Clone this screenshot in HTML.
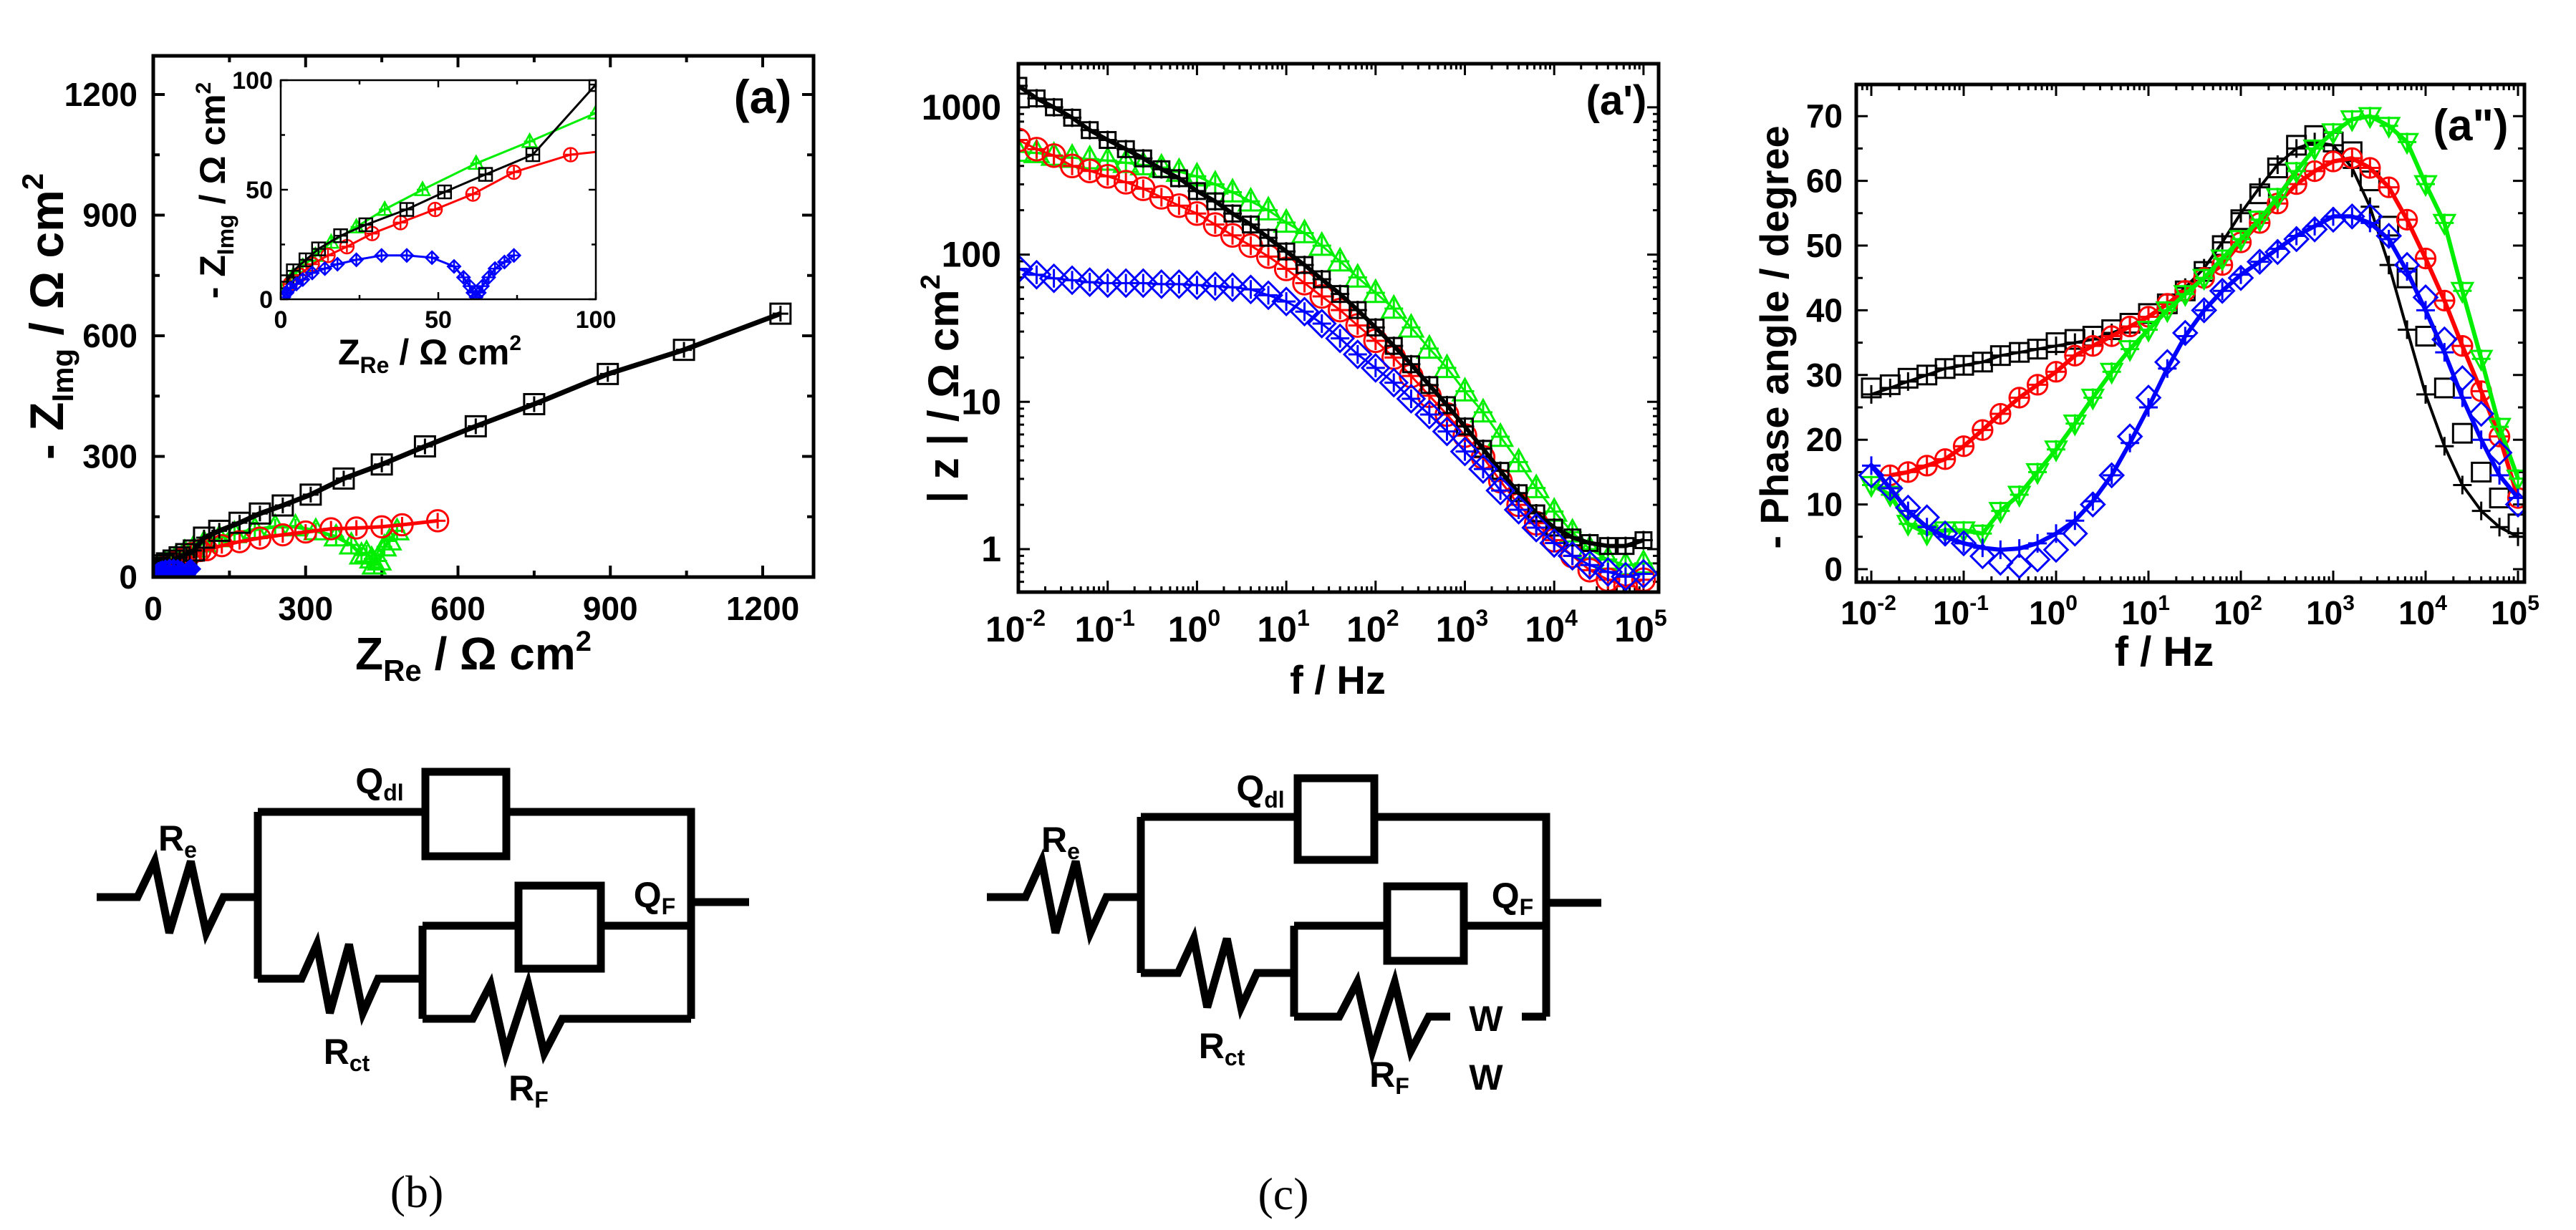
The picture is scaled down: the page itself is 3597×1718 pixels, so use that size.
<!DOCTYPE html>
<html><head><meta charset="utf-8"><style>
html,body{margin:0;padding:0;background:#fff;}
svg{display:block;}
text{font-family:"Liberation Sans",Arial,sans-serif;font-weight:bold;fill:#000;}
.serif{font-family:"Liberation Serif",serif;font-weight:normal;}
</style></head><body>
<svg id="fig" xmlns="http://www.w3.org/2000/svg" width="3597" height="1718" viewBox="0 0 3597 1718">
<defs>
<clipPath id="clipA"><rect x="214" y="78" width="922" height="728"/></clipPath>
<clipPath id="clipI"><rect x="392" y="112" width="440" height="306"/></clipPath>
<clipPath id="clipB"><rect x="1422" y="89" width="894" height="738"/></clipPath>
<clipPath id="clipC"><rect x="2592" y="118" width="933" height="695"/></clipPath>
</defs>
<g id="panelA"></g>
<g id="panelB"></g>
<g id="panelC"></g>
<g id="circB"></g>
<g id="circC"></g>
</svg>
<script>
// ---------- DATA ----------
const freqs = [0.01,0.016,0.025,0.04,0.063,0.1,0.16,0.25,0.4,0.63,1,1.6,2.5,4,6.3,10,16,25,40,63,100,160,250,400,630,1000,1600,2500,4000,6300,1e4,1.6e4,2.5e4,4e4,6.3e4,1e5];
const zBlack = [1400,1150,1000,850,700,600,520,450,380,330,270,230,190,160,130,105,85,68,54,42,32,24,18,13,9.5,6.8,4.8,3.4,2.4,1.75,1.4,1.2,1.1,1.05,1.05,1.15];
const zRed   = [600,520,470,400,370,340,310,280,245,215,190,160,135,115,97,80,64,52,42,33,26,20,15,11,8.2,5.9,4.2,2.9,2.0,1.5,1.15,0.9,0.72,0.62,0.56,0.62];
const zGreen = [500,490,470,455,445,435,420,405,390,365,340,300,265,230,200,165,140,115,90,70,55,43,32,23,17,11.8,8.5,5.8,3.9,2.6,1.8,1.3,1.0,0.85,0.78,0.8];
const zBlue  = [80,73,69,67,65,64,64,64,63,63,62,61,60,58,53,48,41,34,27,21,17,13.5,10.5,8.2,6.3,4.6,3.5,2.5,1.85,1.4,1.1,0.9,0.78,0.7,0.65,0.68];

const phBlack = [28,28.5,29.5,30,31,31.5,32,33,33.5,34,35,35.5,36,37,38,39.5,41,43,46,50,54,58,62,65.5,67,66,64.5,60,53,45,36,28,21,15,11,7];
const phBlackFit = [27,28,29,30,31,31.5,32,33,33.5,34,34.5,35,35.5,36.5,37.5,39,41,43.5,46.5,50.5,55,59,62.5,65,66,65.5,62,56,47,37,27,19,13,9,6.5,5];
const phRed = [null,14.5,15,16,17,19,21.5,24,26.5,28.5,30.5,33,34.5,36,37.5,39,41,43,45,47,50.5,53.5,56.5,59.5,61.5,63,63.5,62,59,54,48,41.5,34.5,27.5,20.5,11];
const phGreen = [13,11.5,7,5.5,6,6,5.5,9,11.5,15,18.5,22.5,26.5,30.5,34,37,40,42.5,45,48,51,54,57.5,61.5,65,67.5,69.5,70,68.5,66,59.5,53.5,43,32.5,22,14];
const phBlue = [14.5,12.5,9.5,8,5.5,4,2,1,0.5,1.5,3,5.5,10,14.5,20.5,26.5,32,36.5,40,43,45,47.5,49,51,52.5,54,54.5,54.5,51.5,47,42,35.5,29.5,24,18,10];
const phBlueFit = [16,12.5,9,6.5,5,4,3.3,3,3.2,4,5.5,7.5,10.5,14.5,19.5,25,31,36,40,43,45.5,47.5,49.5,51.5,53,54.5,54.5,53.5,51,46,40,33.5,26.5,20,14.5,11];

const nyBlackRe = [1235,1045,895,750,635,535,450,375,310,255,210,170,130,100,80,65,52,40,27,19,12,8,4,2];
const nyBlackIm = [655,565,505,430,375,325,280,245,205,178,158,135,115,98,66,57,49,41,34,29,23,18,13,8];
const nyRedRe = [560,490,450,400,350,300,255,210,170,135,105,92,74,61,49,38,29,21,15,10,6,3];
const nyRedIm = [140,130,125,122,120,112,105,97,88,78,68,66,58,48,41,35,30,24,20,16,11,7];
const nyGreenRe = [480,465,455,445,435,430,420,410,390,360,320,280,240,200,160,130,100,79,62,45,33,24,16,11,7,4,2];
const nyGreenIm = [115,90,75,40,30,45,60,55,80,100,115,125,125,118,108,98,85,72,62,50,41,33,26,20,15,11,7];
const nyBlueRe = [74,71,68,66,64,63,62,61,60,58,55,48,40,32,24,18,14,10,7,5,3,2,1];
const nyBlueIm = [20,17,14,10,6,3,1,3,6,10,15,19,20,20,18,16,14,12,9,7,5,3,1];

const nyTicks = [0,300,600,900,1200];
const inTicks = [0,50,100];
const decadeExps = [-2,-1,0,1,2,3,4,5];
const zTicks = [1,10,100,1000];
const phTicks = [0,10,20,30,40,50,60,70];

// ---------- HELPERS ----------
const NS = 'http://www.w3.org/2000/svg';
function mk(tag, attrs, parent){const e=document.createElementNS(NS,tag);for(const k in attrs)e.setAttribute(k,attrs[k]);if(parent)parent.appendChild(e);return e;}
function marker(g, shape, cx, cy, r, color, sw){
  let e;
  if(shape==='sq') e=mk('rect',{x:cx-r,y:cy-r,width:2*r,height:2*r,fill:'none',stroke:color,'stroke-width':sw},g);
  else if(shape==='ci') e=mk('circle',{cx:cx,cy:cy,r:r*1.05,fill:'none',stroke:color,'stroke-width':sw},g);
  else if(shape==='tu') e=mk('polygon',{points:`${cx},${cy-r*1.15} ${cx-r*1.1},${cy+r*0.85} ${cx+r*1.1},${cy+r*0.85}`,fill:'none',stroke:color,'stroke-width':sw},g);
  else if(shape==='td') e=mk('polygon',{points:`${cx},${cy+r*1.15} ${cx-r*1.1},${cy-r*0.85} ${cx+r*1.1},${cy-r*0.85}`,fill:'none',stroke:color,'stroke-width':sw},g);
  else e=mk('polygon',{points:`${cx},${cy-r*1.25} ${cx+r*1.25},${cy} ${cx},${cy+r*1.25} ${cx-r*1.25},${cy}`,fill:'none',stroke:color,'stroke-width':sw},g);
  
  
  return e;
}
function plus(g,cx,cy,r,color,sw){
  const e=mk('path',{d:`M${cx-r},${cy}H${cx+r}M${cx},${cy-r}V${cy+r}`,stroke:color,'stroke-width':sw,fill:'none'},g);
  
  
}
function line(g,pts,color,w,name){
  const d=pts.filter(p=>p).map((p,i)=>(i?'L':'M')+p[0].toFixed(1)+','+p[1].toFixed(1)).join('');
  const e=mk('path',{d:d,fill:'none',stroke:color,'stroke-width':w,'stroke-linejoin':'round'},g);
  
  
}
function txt(g,x,y,s,size,anchor,name,extra){
  const e=mk('text',Object.assign({x:x,y:y,'font-size':size,'text-anchor':anchor||'middle'},extra||{}),g);
  e.innerHTML=s;
  
  
  return e;
}
function box(g,x0,y0,x1,y1,w,name){
  const e=mk('rect',{x:x0,y:y0,width:x1-x0,height:y1-y0,fill:'none',stroke:'#000','stroke-width':w},g);
  
  
}
function tickPath(g,d,w,name){
  const e=mk('path',{d:d,stroke:'#000','stroke-width':w,fill:'none'},g);
  
  
}
const COL={k:'#000000',r:'#ff0000',g:'#00ee00',b:'#0000ff'};

// ---------- PANEL A (Nyquist) ----------
(function(){
  const g=document.getElementById('panelA');
  const X0=214,X1=1136,Y0=806,Y1=78;
  const sx=v=>214+v*(1065-214)/1200, sy=v=>806-v*(806-132)/1200;
  let d='';
  nyTicks.forEach(t=>{d+=`M${sx(t)},${Y0}v-16M${sx(t)},${Y1}v16M${X0},${sy(t)}h16M${X1},${sy(t)}h-16`;});
  nyTicks.forEach(t=>{const m=t+150;if(m<1300){d+=`M${sx(m)},${Y0}v-9M${sx(m)},${Y1}v9M${X0},${sy(m)}h9M${X1},${sy(m)}h-9`;}});
  tickPath(g,d,4,'nyquist-ticks');
  nyTicks.forEach(t=>{
    txt(g,sx(t),866,t,46,'middle','x-tick-label');
    txt(g,192,sy(t)+16,t,46,'end','y-tick-label');
  });
  const gd=mk('g',{'clip-path':'url(#clipA)'},g);
  const series=[[nyGreenRe,nyGreenIm,'g','tu'],[nyRedRe,nyRedIm,'r','ci'],[nyBlackRe,nyBlackIm,'k','sq'],[nyBlueRe,nyBlueIm,'b','di']];
  series.forEach(([re,im,c,sh])=>{
    const pts=re.map((v,i)=>[sx(v),sy(im[i])]);
    line(gd,pts,COL[c],c==='k'?7:5,'nyquist-fit-'+c);
    pts.forEach(p=>{marker(gd,sh,p[0],p[1],c==='b'?10:14,COL[c],3);plus(gd,p[0],p[1],11,COL[c],3);});
  });
  box(g,X0,Y1,X1,Y0,5,'nyquist-plot-frame');
  txt(g,661,935,'Z<tspan font-size="42" dy="16">Re</tspan><tspan dy="-16"> / Ω cm</tspan><tspan font-size="40" dy="-26">2</tspan>',64,'middle','x-axis-title');
  txt(g,0,0,'- Z<tspan font-size="42" dy="14">Img</tspan><tspan dy="-14"> / Ω cm</tspan><tspan font-size="42" dy="-28">2</tspan>',66,'middle','y-axis-title',{transform:'translate(88,442) rotate(-90)'});
  txt(g,1065,158,'(a)',66,'middle','panel-label-a');

  // inset
  const ix=v=>392+v*4.4, iy=v=>418-v*3.06;
  const gi=mk('g',{},g);
  
  
  mk('rect',{x:392,y:112,width:440,height:306,fill:'#fff'},gi);
  let di='';
  inTicks.forEach(t=>{di+=`M${ix(t)},418v-10M${ix(t)},112v10M392,${iy(t)}h10M832,${iy(t)}h-10`;});
  [25,75].forEach(t=>{di+=`M${ix(t)},418v-6M${ix(t)},112v6M392,${iy(t)}h6M832,${iy(t)}h-6`;});
  tickPath(gi,di,2.5,'inset-ticks');
  inTicks.forEach(t=>{
    txt(gi,ix(t),458,t,34,'middle','inset-x-tick-label');
    txt(gi,381,iy(t)+12,t,34,'end','inset-y-tick-label');
  });
  const gc=mk('g',{'clip-path':'url(#clipI)'},gi);
  series.forEach(([re,im,c,sh])=>{
    const pts=re.map((v,i)=>[ix(v),iy(im[i])]);
    line(gc,pts,COL[c],3,'inset-fit-'+c);
    pts.forEach((p,i)=>{if(re[i]<=102){marker(gc,sh,p[0],p[1],c==='b'?7:9,COL[c],2.5);plus(gc,p[0],p[1],8,COL[c],2.5);}});
  });
  box(gi,392,112,832,418,2.5,'inset-frame');
  txt(gi,600,509,'Z<tspan font-size="32" dy="12">Re</tspan><tspan dy="-12"> / Ω cm</tspan><tspan font-size="30" dy="-20">2</tspan>',50,'middle','inset-x-axis-title');
  txt(gi,0,0,'- Z<tspan font-size="32" dy="12">Img</tspan><tspan dy="-12"> / Ω cm</tspan><tspan font-size="30" dy="-20">2</tspan>',50,'middle','inset-y-axis-title',{transform:'translate(314,266) rotate(-90)'});
})();

// ---------- PANEL B (|Z|) ----------
(function(){
  const g=document.getElementById('panelB');
  const X0=1422,X1=2316,Y0=827,Y1=89;
  const sx=f=>1422+(Math.log10(f)+2)*124.7, sy=z=>767-Math.log10(z)*205.7;
  let d='';
  decadeExps.forEach(e=>{const x=sx(Math.pow(10,e));d+=`M${x},${Y0}v-16M${x},${Y1}v16`;
    for(let k=2;k<10;k++){const xm=sx(k*Math.pow(10,e));if(xm<X1)d+=`M${xm},${Y0}v-8M${xm},${Y1}v8`;}});
  zTicks.forEach(t=>{d+=`M${X0},${sy(t)}h16M${X1},${sy(t)}h-16`;});
  [0.1,1,10,100,1000].forEach(b=>{for(let k=2;k<10;k++){const y=sy(k*b);if(y>Y1&&y<Y0)d+=`M${X0},${y}h8M${X1},${y}h-8`;}});
  tickPath(g,d,3,'bode-modulus-ticks');
  decadeExps.forEach(e=>txt(g,sx(Math.pow(10,e))-4,896,`10<tspan font-size="32" dy="-22">${e}</tspan>`,50,'middle','x-tick-label'));
  zTicks.forEach(t=>txt(g,1398,sy(t)+17,t,50,'end','y-tick-label'));
  const gd=mk('g',{'clip-path':'url(#clipB)'},g);
  [[zGreen,'g','tu'],[zRed,'r','ci'],[zBlack,'k','sq'],[zBlue,'b','di']].forEach(([arr,c,sh])=>{
    const pts=arr.map((v,i)=>[sx(freqs[i]),sy(v)]);
    line(gd,pts,COL[c],c==='k'?6:3,'modulus-fit-'+c);
    pts.forEach(p=>{marker(gd,sh,p[0],p[1],c==='k'?11:15,COL[c],3);plus(gd,p[0],p[1],13,COL[c],3);});
  });
  box(g,X0,Y1,X1,Y0,5,'bode-modulus-frame');
  txt(g,1868,969,'f / Hz',56,'middle','x-axis-title');
  txt(g,0,0,'| z | / Ω cm<tspan font-size="38" dy="-26">2</tspan>',60,'middle','y-axis-title',{transform:'translate(1338,543) rotate(-90)'});
  txt(g,2257,160,"(a')",58,'middle','panel-label-a-prime');
})();

// ---------- PANEL C (phase) ----------
(function(){
  const g=document.getElementById('panelC');
  const X0=2592,X1=3525,Y0=813,Y1=118;
  const sx=f=>2613+(Math.log10(f)+2)*129, sy=p=>795-p*9.04;
  let d='';
  decadeExps.forEach(e=>{const x=sx(Math.pow(10,e));d+=`M${x},${Y0}v-16M${x},${Y1}v16`;
    for(let k=2;k<10;k++){const xm=sx(k*Math.pow(10,e-1));if(xm>X0&&xm<X1)d+=`M${xm},${Y0}v-8M${xm},${Y1}v8`;}});
  for(let k=2;k<10;k++){const xm=sx(k*1e5);if(xm<X1)d+=`M${xm},${Y0}v-8M${xm},${Y1}v8`;}
  phTicks.forEach(t=>{d+=`M${X0},${sy(t)}h16M${X1},${sy(t)}h-16`;const m=t+5;if(m<75)d+=`M${X0},${sy(m)}h9M${X1},${sy(m)}h-9`;});
  tickPath(g,d,3,'bode-phase-ticks');
  decadeExps.forEach(e=>txt(g,sx(Math.pow(10,e))-4,872,`10<tspan font-size="30" dy="-20">${e}</tspan>`,46,'middle','x-tick-label'));
  phTicks.forEach(t=>txt(g,2573,sy(t)+16,t,46,'end','y-tick-label'));
  const gd=mk('g',{'clip-path':'url(#clipC)'},g);
  [[phBlack,phBlackFit,'k','sq'],[phRed,phRed,'r','ci'],[phGreen,phGreen,'g','td'],[phBlue,phBlueFit,'b','di']].forEach(([arr,fit,c,sh])=>{
    const fp=fit.map((v,i)=>v==null?null:[sx(freqs[i]),sy(v)]);
    line(gd,fp,COL[c],c==='k'?4:6,'phase-fit-'+c);
    fp.forEach(p=>{if(p)plus(gd,p[0],p[1],13,COL[c],3);});
    arr.forEach((v,i)=>{if(v!=null)marker(gd,sh,sx(freqs[i]),sy(v),13,COL[c],3);});
  });
  box(g,X0,Y1,X1,Y0,5,'bode-phase-frame');
  txt(g,3022,930,'f / Hz',58,'middle','x-axis-title');
  txt(g,0,0,'- Phase angle / degree',56,'middle','y-axis-title',{transform:'translate(2497,471) rotate(-90)'});
  txt(g,3450,196,'(a")',62,'middle','panel-label-a-double-prime');
})();

// ---------- CIRCUITS ----------
function zig(x0,x1,yc,amp){
  const w=(x1-x0);
  return `L${x0},${yc}L${x0+w*0.2},${yc-amp}L${x0+w*0.37},${yc+amp}L${x0+w*0.62},${yc-amp}L${x0+w*0.8},${yc+amp}L${x1},${yc}`;
}
function circuit(g,o){
  const sw=11;
  const P=(d,name)=>{const e=mk('path',{d:d,fill:'none',stroke:'#000','stroke-width':sw,'stroke-linejoin':'miter'},g);
    
    };
  P(`M${o.in0},${o.yIn}${zig(o.re0,o.re1,o.yIn,50)}L${o.j1},${o.yIn}`,'resistor-re');
  P(`M${o.j1},${o.yTop}V${o.yBot}`,'left-rail');
  P(`M${o.j1},${o.yTop}H${o.qd0}M${o.qd1},${o.yTop}H${o.jr}V${o.yLow}`,'top-rail');
  P(`M${o.qd0},${o.qdT}H${o.qd1}V${o.qdB}H${o.qd0}Z`,'cpe-qdl');
  P(`M${o.j1},${o.yBot}${zig(o.rc0,o.rc1,o.yBot,48)}L${o.j2},${o.yBot}`,'resistor-rct');
  P(`M${o.j2},${o.yUp}V${o.yLow}`,'inner-rail');
  P(`M${o.j2},${o.yUp}H${o.qf0}M${o.qf1},${o.yUp}H${o.jr}`,'upper-branch');
  P(`M${o.qf0},${o.qfT}H${o.qf1}V${o.qfB}H${o.qf0}Z`,'cpe-qf');
  let low=`M${o.j2},${o.yLow}${zig(o.rf0,o.rf1,o.yLow,48)}`;
  if(o.w){low+=`L${o.w0},${o.yLow}`;}
  low+=`L${o.jr},${o.yLow}`;
  P(low,'lower-branch');
  P(`M${o.jr},${o.yOut}H${o.out1}`,'output-wire');
}
(function(){
  const g=document.getElementById('circB');
  circuit(g,{in0:135,yIn:1253,re0:192,re1:312,j1:360,yTop:1134,yBot:1367,qd0:594,qd1:707,qdT:1078,qdB:1196,jr:965,rc0:421,rc1:528,j2:590,yUp:1293,yLow:1423,qf0:724,qf1:839,qfT:1237,qfB:1353,rf0:660,rf1:785,yOut:1260,out1:1046});
  txt(g,248,1188,'R<tspan font-size="32" dy="10">e</tspan>',50,'middle','label-re');
  txt(g,530,1108,'Q<tspan font-size="32" dy="10">dl</tspan>',50,'middle','label-qdl');
  txt(g,914,1267,'Q<tspan font-size="32" dy="10">F</tspan>',50,'middle','label-qf');
  txt(g,484,1486,'R<tspan font-size="32" dy="10">ct</tspan>',50,'middle','label-rct');
  txt(g,738,1537,'R<tspan font-size="32" dy="10">F</tspan>',50,'middle','label-rf');
  const t=txt(g,582,1686,'(b)',64,'middle','caption-b');t.setAttribute('class','serif');
})();
(function(){
  const g=document.getElementById('circC');
  circuit(g,{in0:1378,yIn:1253,re0:1432,re1:1545,j1:1593,yTop:1141,yBot:1359,qd0:1812,qd1:1919,qdT:1087,qdB:1201,jr:2159,rc0:1645,rc1:1755,j2:1807,yUp:1293,yLow:1420,qf0:1937,qf1:2044,qfT:1238,qfB:1342,rf0:1870,rf1:1995,w:true,w0:2025,yOut:1261,out1:2236});
  mk('rect',{x:2025,y:1400,width:100,height:45,fill:'#fff'},g);
  txt(g,2075,1440,'W',50,'middle','warburg-symbol');
  txt(g,1481,1190,'R<tspan font-size="32" dy="10">e</tspan>',50,'middle','label-re');
  txt(g,1760,1118,'Q<tspan font-size="32" dy="10">dl</tspan>',50,'middle','label-qdl');
  txt(g,2112,1268,'Q<tspan font-size="32" dy="10">F</tspan>',50,'middle','label-qf');
  txt(g,1706,1478,'R<tspan font-size="32" dy="10">ct</tspan>',50,'middle','label-rct');
  txt(g,1940,1518,'R<tspan font-size="32" dy="10">F</tspan>',50,'middle','label-rf');
  txt(g,2075,1522,'W',50,'middle','label-w');
  const t=txt(g,1792,1689,'(c)',64,'middle','caption-c');t.setAttribute('class','serif');
})();
</script>
</body></html>
